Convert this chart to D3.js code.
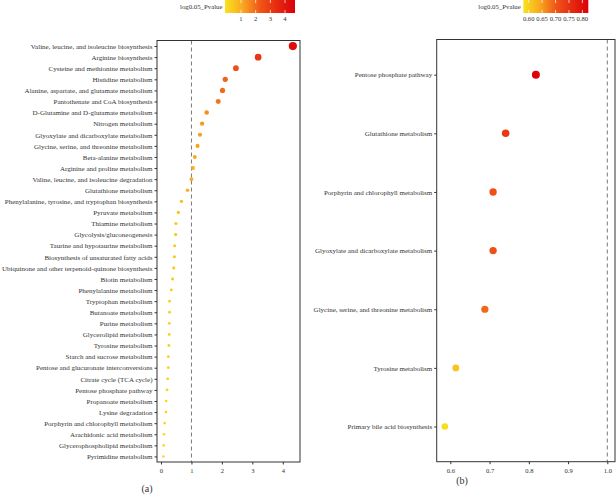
<!DOCTYPE html>
<html><head><meta charset="utf-8">
<script src="https://cdn.jsdelivr.net/npm/d3@7"></script>
<style>body{margin:0;background:#fff}svg{display:block}text{font-family:"Liberation Serif","DejaVu Serif",serif;fill:#333}</style>
</head><body><svg id="c" width="616" height="495"></svg>
<script>
const pathwaysA = ["Valine, leucine, and isoleucine biosynthesis","Arginine biosynthesis","Cysteine and methionine metabolism","Histidine metabolism","Alanine, aspartate, and glutamate metabolism","Pantothenate and CoA biosynthesis","D-Glutamine and D-glutamate metabolism","Nitrogen metabolism","Glyoxylate and dicarboxylate metabolism","Glycine, serine, and threonine metabolism","Beta-alanine metabolism","Arginine and proline metabolism","Valine, leucine, and isoleucine degradation","Glutathione metabolism","Phenylalanine, tyrosine, and tryptophan biosynthesis","Pyruvate metabolism","Thiamine metabolism","Glycolysis/gluconeogenesis","Taurine and hypotaurine metabolism","Biosynthesis of unsaturated fatty acids","Ubiquinone and other terpenoid-quinone biosynthesis","Biotin metabolism","Phenylalanine metabolism","Tryptophan metabolism","Butanoate metabolism","Purine metabolism","Glycerolipid metabolism","Tyrosine metabolism","Starch and sucrose metabolism","Pentose and glucuronate interconversions","Citrate cycle (TCA cycle)","Pentose phosphate pathway","Propanoate metabolism","Lysine degradation","Porphyrin and chlorophyll metabolism","Arachidonic acid metabolism","Glycerophospholipid metabolism","Pyrimidine metabolism"];
const valuesA = [4.33,3.19,2.46,2.11,2.02,1.88,1.50,1.35,1.28,1.20,1.11,1.05,1.00,0.87,0.67,0.57,0.49,0.48,0.45,0.44,0.42,0.38,0.34,0.28,0.28,0.27,0.27,0.26,0.24,0.24,0.22,0.20,0.17,0.16,0.12,0.10,0.09,0.08];
const ticksA = [0,1,2,3,4];
const legendTicksA = [1,2,3,4];

const pathwaysB = ["Pentose phosphate pathway","Glutathione metabolism","Porphyrin and chlorophyll metabolism","Glyoxylate and dicarboxylate metabolism","Glycine, serine, and threonine metabolism","Tyrosine metabolism","Primary bile acid biosynthesis"];
const valuesB = [0.818,0.741,0.709,0.709,0.688,0.614,0.586];
const ticksB = [0.6,0.7,0.8,0.9,1.0];
const legendTicksB = [0.60,0.65,0.70,0.75,0.80];

const legendTitle = "log0.05_Pvalue";
const rampColors = ["#F8E21E", "#F9A91F", "#F05618", "#E52A10", "#DC0008"];

const svg = d3.select("#c");
const defs = svg.append("defs");

function panel(cfg){
  const g = svg.append("g");
  const x = d3.scaleLinear().domain(cfg.xDomain).range([cfg.x0, cfg.x1]);
  const y = d3.scalePoint().domain(cfg.cats).range([cfg.y0, cfg.y1]).padding(cfg.pad);
  const stops = rampColors.map((c, i) => cfg.cDomain[0] + i / (rampColors.length - 1) * (cfg.cDomain[1] - cfg.cDomain[0]));
  const col = d3.scaleLinear().domain(stops).range(rampColors).interpolate(d3.interpolateRgb).clamp(true);
  const r = d3.scaleLinear().domain(d3.extent(cfg.vals)).range(cfg.rRange);
  g.append("line").attr("x1", x(1)).attr("x2", x(1)).attr("y1", cfg.y0).attr("y2", cfg.y1)
    .attr("stroke", "#555").attr("stroke-width", 0.8).attr("stroke-dasharray", "4,3");
  g.append("rect").attr("x", cfg.x0).attr("y", cfg.y0).attr("width", cfg.x1 - cfg.x0).attr("height", cfg.y1 - cfg.y0)
    .attr("fill", "none").attr("stroke", "#333").attr("stroke-width", 1);
  const ya = g.append("g").attr("transform", `translate(${cfg.x0},0)`).call(d3.axisLeft(y).tickSize(2.5).tickPadding(2));
  ya.select(".domain").remove();
  ya.selectAll("line").attr("stroke", "#333");
  ya.selectAll("text").attr("font-size", "7px").attr("fill", "#333");
  const xa = g.append("g").attr("transform", `translate(0,${cfg.y1})`).call(d3.axisBottom(x).tickValues(cfg.ticks).tickFormat(cfg.fmt).tickSize(2.5).tickPadding(4));
  xa.select(".domain").remove();
  xa.selectAll("line").attr("stroke", "#333");
  xa.selectAll("text").attr("font-size", "6.6px").attr("fill", "#444");
  g.selectAll("circle.d").data(cfg.vals).join("circle").attr("class","d")
    .attr("cx", d => x(d)).attr("cy", (d,i) => y(cfg.cats[i])).attr("r", d => r(d)).attr("fill", d => col(d));
  const lx = d3.scaleLinear().domain(cfg.cDomain).range([cfg.lx0, cfg.lx1]);
  const gid = "grad" + cfg.id;
  const grad = defs.append("linearGradient").attr("id", gid);
  d3.range(0, 1.0001, 0.05).forEach(t => grad.append("stop").attr("offset", t).attr("stop-color", col(cfg.cDomain[0] + t*(cfg.cDomain[1]-cfg.cDomain[0]))));
  g.append("rect").attr("x", cfg.lx0).attr("y", 0).attr("width", cfg.lx1 - cfg.lx0).attr("height", 13).attr("fill", `url(#${gid})`);
  cfg.lticks.forEach(t => {
    g.append("line").attr("x1", lx(t)).attr("x2", lx(t)).attr("y1", 0).attr("y2", 3).attr("stroke", "#fff").attr("stroke-width", 0.7);
    g.append("line").attr("x1", lx(t)).attr("x2", lx(t)).attr("y1", 10).attr("y2", 13).attr("stroke", "#fff").attr("stroke-width", 0.7);
    g.append("text").attr("x", lx(t)).attr("y", 21).attr("text-anchor", "middle").attr("font-size", "6.6px").attr("fill", "#444").text(cfg.lfmt(t));
  });
  g.append("text").attr("x", cfg.lx0 - 2.5).attr("y", 8.5).attr("text-anchor", "end").attr("font-size", "6.8px").text(legendTitle);
  g.append("text").attr("x", cfg.capX).attr("y", cfg.capY).attr("text-anchor", "middle").attr("font-size", "10px").attr("fill", "#333").text(cfg.cap);
}

panel({id:"A", cats: pathwaysA, vals: valuesA, xDomain: [-0.131, 4.565], x0: 157, x1: 300, y0: 40.5, y1: 462, pad: 0.5,
  ticks: ticksA, fmt: d3.format("d"), cDomain: [-0.09, 4.68], rRange: [1.3, 4.1],
  lx0: 225, lx1: 295, lticks: legendTicksA, lfmt: d3.format("d"), cap: "(a)", capX: 147, capY: 492});
panel({id:"B", cats: pathwaysB, vals: valuesB, xDomain: [0.5653, 1.0196], x0: 436.7, x1: 615, y0: 39.5, y1: 461.7, pad: 0.6,
  ticks: ticksB, fmt: d3.format(".1f"), cDomain: [0.58, 0.822], rRange: [3.3, 4.0],
  lx0: 523.3, lx1: 588.3, lticks: legendTicksB, lfmt: d3.format(".2f"), cap: "(b)", capX: 462, capY: 484});
</script></body></html>
